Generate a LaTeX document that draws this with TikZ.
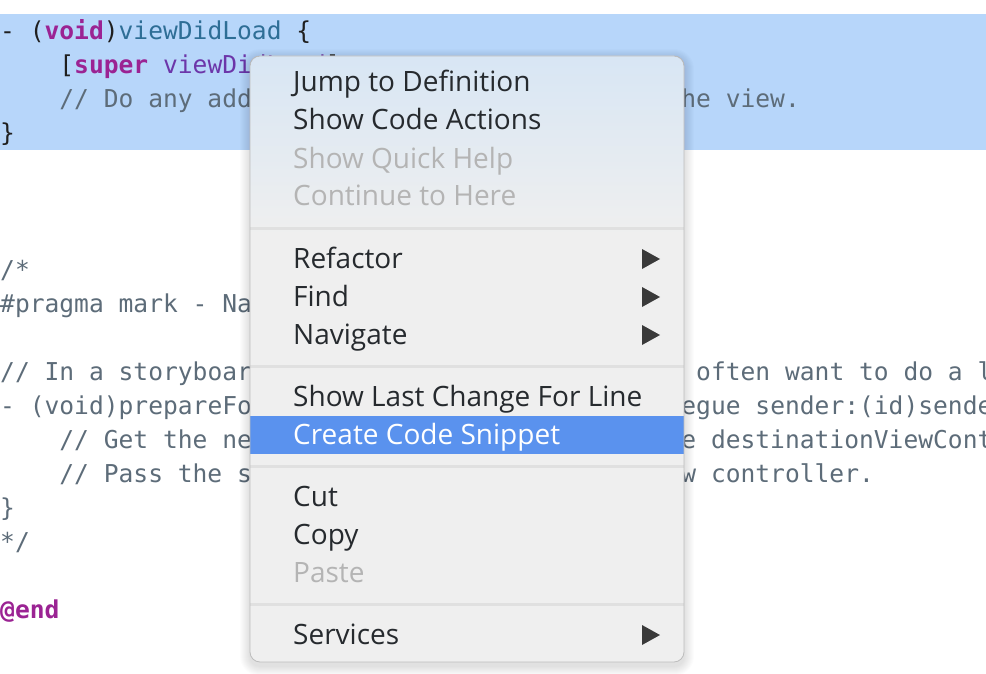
\documentclass[tikz,border=0pt]{standalone}
\usepackage{fontspec}
\newfontfamily\codefont{DejaVu Sans Mono}
\newfontfamily\menufont{Open Sans}
\definecolor{plain}{HTML}{1F1F1F}
\definecolor{keyword}{HTML}{9B2393}
\definecolor{declname}{HTML}{2E6E96}
\definecolor{methodname}{HTML}{6C36A9}
\definecolor{commentgrey}{HTML}{5D6C79}
\definecolor{selection}{HTML}{B7D6FA}
\definecolor{menubg}{HTML}{EFEFEF}
\definecolor{menutint}{HTML}{D8E6F4}
\definecolor{menuborder}{HTML}{BDBDBD}
\definecolor{itemtext}{HTML}{262A2E}
\definecolor{disabled}{HTML}{B4B4B4}
\definecolor{sepgrey}{HTML}{E0E0E0}
\definecolor{hilite}{HTML}{5A92EE}
\definecolor{arrowgrey}{HTML}{3A3A3A}

\begin{document}
\begin{tikzpicture}
[every node/.style={inner sep=0pt, anchor=base west},
 code/.style={font=\codefont\fontsize{24.6}{30}\selectfont, text=plain},
 comment/.style={code, text=commentgrey},
 item/.style={font=\menufont\fontsize{28}{33}\selectfont, text=itemtext},
 greyitem/.style={item, text=disabled},
 separator/.style={line width=3pt, draw=sepgrey},
 submenu/.style={fill=arrowgrey}]
\useasboundingbox [fill=white] (0pt, 0pt) rectangle (986pt, -674pt);
\clip (0pt, 0pt) rectangle (986pt, -674pt);
% selected lines
\fill [selection] (0pt, -14pt) rectangle (986pt, -150pt);
% code
\node (decl) [code] at (0pt, -40pt) {- (\textbf{\textcolor{keyword}{void}})\textcolor{declname}{viewDidLoad} \{};
\node (superline) [code] at (59.2pt, -74pt) {[\textbf{\textcolor{keyword}{super}} \textcolor{methodname}{viewDidLoad}];};
\node (setupnote) [comment] at (59.2pt, -108pt) {// Do any additional setup after loading the view.};
\node (closedecl) [code] at (0pt, -142pt) {\}};
\node (open) [comment] at (0pt, -278pt) {/*};
\node (pragma) [comment] at (0pt, -312pt) {\#pragma mark - Navigation};
\node (storyboardnote) [comment] at (0pt, -380pt) {// In a storyboard-based application, you will often want to do a little preparation before navigation};
\node (prepare) [comment] at (0pt, -414pt) {- (void)prepareForSegue:(UIStoryboardSegue *)segue sender:(id)sender \{};
\node (getnote) [comment] at (59.2pt, -448pt) {// Get the new view controller using [segue destinationViewController].};
\node (passnote) [comment] at (59.2pt, -482pt) {// Pass the selected object to the new view controller.};
\node (closeprepare) [comment] at (0pt, -516pt) {\}};
\node (closecomment) [comment] at (0pt, -550pt) {*/};
\node (endmark) [code] at (0pt, -618pt) {\textbf{\textcolor{keyword}{@end}}};
% menu shadow
\foreach \s in {1,...,10}
  \fill [black, opacity=0.012, rounded corners=10pt+\s pt] (250pt-\s pt, -56pt+\s pt-3pt) rectangle (684pt+\s pt, -662pt-\s pt-4pt);
% menu body
\fill [menubg, rounded corners=10pt] (250pt, -56pt) rectangle (684pt, -662pt);
\begin{scope}
\clip [rounded corners=10pt] (250pt, -56pt) rectangle (684pt, -662pt);
\fill [top color=menutint, bottom color=menubg] (250pt, -56pt) rectangle (684pt, -235pt);
\fill [hilite] (250pt, -416pt) rectangle (684pt, -454pt);
\draw [separator] (250pt, -228pt) -- (684pt, -228pt);
\draw [separator] (250pt, -366pt) -- (684pt, -366pt);
\draw [separator] (250pt, -466pt) -- (684pt, -466pt);
\draw [separator] (250pt, -604pt) -- (684pt, -604pt);
\end{scope}
\draw [menuborder, line width=0.8pt, rounded corners=10pt] (250pt, -56pt) rectangle (684pt, -662pt);
% menu items
\node (jump) [item] at (293pt, -92pt) {Jump to Definition};
\node (actions) [item] at (293pt, -130pt) {Show Code Actions};
\node (quickhelp) [greyitem] at (293pt, -168pt) {Show Quick Help};
\node (continue) [greyitem] at (293pt, -206pt) {Continue to Here};
\node (refactor) [item] at (293pt, -268pt) {Refactor};
\node (find) [item] at (293pt, -306pt) {Find};
\node (navigate) [item] at (293pt, -344pt) {Navigate};
\node (lastchange) [item] at (293pt, -406pt) {Show Last Change For Line};
\node (snippet) [item, text=white] at (293pt, -444pt) {Create Code Snippet};
\node (cut) [item] at (293pt, -506pt) {Cut};
\node (copy) [item] at (293pt, -544pt) {Copy};
\node (paste) [greyitem] at (293pt, -582pt) {Paste};
\node (services) [item] at (293pt, -644pt) {Services};
% submenu arrows
\foreach \y in {259, 297, 335, 635}
  \fill [submenu] (642pt, -\y pt+10pt) -- (660pt, -\y pt) -- (642pt, -\y pt-10pt) -- cycle;
\end{tikzpicture}
\end{document}
